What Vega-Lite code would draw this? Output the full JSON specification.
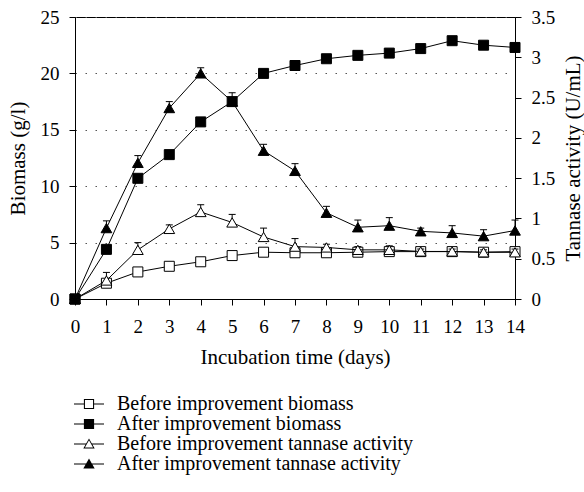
{
  "$schema": "https://vega.github.io/schema/vega-lite/v6.json",
  "width": 440,
  "height": 282,
  "autosize": {"type": "none"},
  "padding": {"left": 75, "top": 17, "right": 69, "bottom": 193},
  "background": "white",
  "config": {
    "font": "Liberation Serif",
    "view": {"stroke": "black", "strokeWidth": 1},
    "axis": {
      "domainColor": "black",
      "tickColor": "black",
      "labelColor": "black",
      "titleColor": "black",
      "labelFont": "Liberation Serif",
      "titleFont": "Liberation Serif",
      "labelFontSize": 19,
      "titleFontSize": 21,
      "titleFontWeight": "normal",
      "tickSize": 6,
      "grid": false
    },
    "legend": {
      "orient": "none",
      "legendX": 4,
      "legendY": 377,
      "direction": "vertical",
      "padding": 0,
      "rowPadding": 0,
      "labelFont": "Liberation Serif",
      "labelFontSize": 20,
      "labelColor": "black",
      "labelOffset": 18,
      "labelLimit": 0,
      "symbolSize": 225,
      "symbolStrokeWidth": 0,
      "symbolFillColor": "black"
    }
  },
  "data": {
    "values": [
      {"day": 0, "series": "Before improvement biomass", "axis": "biomass", "value": 0},
      {"day": 1, "series": "Before improvement biomass", "axis": "biomass", "value": 1.4},
      {"day": 2, "series": "Before improvement biomass", "axis": "biomass", "value": 2.4},
      {"day": 3, "series": "Before improvement biomass", "axis": "biomass", "value": 2.9},
      {"day": 4, "series": "Before improvement biomass", "axis": "biomass", "value": 3.3},
      {"day": 5, "series": "Before improvement biomass", "axis": "biomass", "value": 3.85},
      {"day": 6, "series": "Before improvement biomass", "axis": "biomass", "value": 4.15},
      {"day": 7, "series": "Before improvement biomass", "axis": "biomass", "value": 4.1},
      {"day": 8, "series": "Before improvement biomass", "axis": "biomass", "value": 4.1},
      {"day": 9, "series": "Before improvement biomass", "axis": "biomass", "value": 4.15},
      {"day": 10, "series": "Before improvement biomass", "axis": "biomass", "value": 4.2},
      {"day": 11, "series": "Before improvement biomass", "axis": "biomass", "value": 4.2},
      {"day": 12, "series": "Before improvement biomass", "axis": "biomass", "value": 4.2},
      {"day": 13, "series": "Before improvement biomass", "axis": "biomass", "value": 4.15},
      {"day": 14, "series": "Before improvement biomass", "axis": "biomass", "value": 4.2},
      {"day": 0, "series": "After improvement biomass", "axis": "biomass", "value": 0},
      {"day": 1, "series": "After improvement biomass", "axis": "biomass", "value": 4.4},
      {"day": 2, "series": "After improvement biomass", "axis": "biomass", "value": 10.7},
      {"day": 3, "series": "After improvement biomass", "axis": "biomass", "value": 12.8},
      {"day": 4, "series": "After improvement biomass", "axis": "biomass", "value": 15.7},
      {"day": 5, "series": "After improvement biomass", "axis": "biomass", "value": 17.5},
      {"day": 6, "series": "After improvement biomass", "axis": "biomass", "value": 20.0},
      {"day": 7, "series": "After improvement biomass", "axis": "biomass", "value": 20.7},
      {"day": 8, "series": "After improvement biomass", "axis": "biomass", "value": 21.3},
      {"day": 9, "series": "After improvement biomass", "axis": "biomass", "value": 21.6},
      {"day": 10, "series": "After improvement biomass", "axis": "biomass", "value": 21.8},
      {"day": 11, "series": "After improvement biomass", "axis": "biomass", "value": 22.2},
      {"day": 12, "series": "After improvement biomass", "axis": "biomass", "value": 22.9},
      {"day": 13, "series": "After improvement biomass", "axis": "biomass", "value": 22.5},
      {"day": 14, "series": "After improvement biomass", "axis": "biomass", "value": 22.3},
      {"day": 0, "series": "Before improvement tannase activity", "axis": "tannase", "value": 0, "upper": null},
      {"day": 1, "series": "Before improvement tannase activity", "axis": "tannase", "value": 0.23, "upper": 0.33},
      {"day": 2, "series": "Before improvement tannase activity", "axis": "tannase", "value": 0.61, "upper": 0.7},
      {"day": 3, "series": "Before improvement tannase activity", "axis": "tannase", "value": 0.87, "upper": 0.92},
      {"day": 4, "series": "Before improvement tannase activity", "axis": "tannase", "value": 1.08, "upper": 1.17},
      {"day": 5, "series": "Before improvement tannase activity", "axis": "tannase", "value": 0.95, "upper": 1.05},
      {"day": 6, "series": "Before improvement tannase activity", "axis": "tannase", "value": 0.77, "upper": 0.88},
      {"day": 7, "series": "Before improvement tannase activity", "axis": "tannase", "value": 0.65, "upper": 0.75},
      {"day": 8, "series": "Before improvement tannase activity", "axis": "tannase", "value": 0.64, "upper": 0.68},
      {"day": 9, "series": "Before improvement tannase activity", "axis": "tannase", "value": 0.61, "upper": 0.65},
      {"day": 10, "series": "Before improvement tannase activity", "axis": "tannase", "value": 0.61, "upper": 0.66},
      {"day": 11, "series": "Before improvement tannase activity", "axis": "tannase", "value": 0.59, "upper": 0.62},
      {"day": 12, "series": "Before improvement tannase activity", "axis": "tannase", "value": 0.59, "upper": 0.62},
      {"day": 13, "series": "Before improvement tannase activity", "axis": "tannase", "value": 0.58, "upper": 0.61},
      {"day": 14, "series": "Before improvement tannase activity", "axis": "tannase", "value": 0.58, "upper": 0.62},
      {"day": 0, "series": "After improvement tannase activity", "axis": "tannase", "value": 0, "upper": null},
      {"day": 1, "series": "After improvement tannase activity", "axis": "tannase", "value": 0.88, "upper": 0.97},
      {"day": 2, "series": "After improvement tannase activity", "axis": "tannase", "value": 1.69, "upper": 1.78},
      {"day": 3, "series": "After improvement tannase activity", "axis": "tannase", "value": 2.37, "upper": 2.45},
      {"day": 4, "series": "After improvement tannase activity", "axis": "tannase", "value": 2.8, "upper": 2.87},
      {"day": 5, "series": "After improvement tannase activity", "axis": "tannase", "value": 2.45, "upper": 2.56},
      {"day": 6, "series": "After improvement tannase activity", "axis": "tannase", "value": 1.84, "upper": 1.92},
      {"day": 7, "series": "After improvement tannase activity", "axis": "tannase", "value": 1.59, "upper": 1.68},
      {"day": 8, "series": "After improvement tannase activity", "axis": "tannase", "value": 1.07, "upper": 1.15},
      {"day": 9, "series": "After improvement tannase activity", "axis": "tannase", "value": 0.89, "upper": 0.98},
      {"day": 10, "series": "After improvement tannase activity", "axis": "tannase", "value": 0.91, "upper": 1.01},
      {"day": 11, "series": "After improvement tannase activity", "axis": "tannase", "value": 0.84, "upper": 0.88},
      {"day": 12, "series": "After improvement tannase activity", "axis": "tannase", "value": 0.82, "upper": 0.91},
      {"day": 13, "series": "After improvement tannase activity", "axis": "tannase", "value": 0.78, "upper": 0.86},
      {"day": 14, "series": "After improvement tannase activity", "axis": "tannase", "value": 0.85, "upper": 0.98}
    ]
  },
  "encoding": {
    "x": {
      "field": "day",
      "type": "quantitative",
      "scale": {"domain": [0, 14], "nice": false, "zero": false},
      "axis": {
        "title": "Incubation time (days)",
        "values": [0, 1, 2, 3, 4, 5, 6, 7, 8, 9, 10, 11, 12, 13, 14],
        "format": "d",
        "labelPadding": 12,
        "labelFlush": false,
        "labelOverlap": false,
        "titleY": 58,
        "titleBaseline": "middle"
      }
    }
  },
  "layer": [
    {
      "transform": [{"filter": "datum.axis === 'biomass'"}],
      "encoding": {
        "y": {
          "field": "value",
          "type": "quantitative",
          "scale": {"domain": [0, 25], "nice": false},
          "axis": {
            "orient": "left",
            "title": "Biomass (g/l)",
            "values": [0, 5, 10, 15, 20, 25],
            "format": "d",
            "labelPadding": 10,
            "grid": true,
            "gridColor": "#555555",
            "gridDash": [1.5, 8.5],
            "gridWidth": 1,
            "titleAngle": 270,
            "titleX": -57,
            "titleY": 141,
            "titleAlign": "center",
            "titleBaseline": "middle"
          }
        }
      },
      "layer": [
        {
          "mark": {"type": "line", "color": "black", "strokeWidth": 1},
          "encoding": {"detail": {"field": "series", "type": "nominal"}}
        },
        {
          "mark": {"type": "point", "filled": true, "stroke": "black", "strokeWidth": 1, "size": 100, "opacity": 1},
          "encoding": {
            "shape": {
              "field": "series",
              "type": "nominal",
              "scale": {
                "domain": ["Before improvement biomass", "After improvement biomass", "Before improvement tannase activity", "After improvement tannase activity"],
                "range": ["square", "square", "triangle-up", "triangle-up"]
              },
              "legend": null
            },
            "fill": {
              "field": "series",
              "type": "nominal",
              "scale": {
                "domain": ["Before improvement biomass", "After improvement biomass", "Before improvement tannase activity", "After improvement tannase activity"],
                "range": ["white", "black", "white", "black"]
              },
              "legend": null
            }
          }
        }
      ]
    },
    {
      "transform": [{"filter": "datum.axis === 'tannase'"}],
      "encoding": {
        "y": {
          "field": "value",
          "type": "quantitative",
          "scale": {"domain": [0, 3.5], "nice": false},
          "axis": {
            "orient": "right",
            "title": "Tannase activity (U/mL)",
            "values": [0, 0.5, 1, 1.5, 2, 2.5, 3, 3.5],
            "format": "~g",
            "labelPadding": 10,
            "grid": false,
            "titleAngle": 270,
            "titleX": 58,
            "titleY": 141,
            "titleAlign": "center",
            "titleBaseline": "middle"
          }
        }
      },
      "layer": [
        {
          "mark": {"type": "line", "color": "black", "strokeWidth": 1},
          "encoding": {"detail": {"field": "series", "type": "nominal"}}
        },
        {
          "transform": [{"filter": "datum.upper != null"}],
          "mark": {"type": "rule", "color": "black", "strokeWidth": 1},
          "encoding": {"y2": {"field": "upper"}}
        },
        {
          "transform": [{"filter": "datum.upper != null"}],
          "mark": {"type": "tick", "orient": "horizontal", "color": "black", "size": 7, "thickness": 1, "opacity": 1},
          "encoding": {"y": {"field": "upper", "type": "quantitative"}}
        },
        {
          "mark": {"type": "point", "filled": true, "stroke": "black", "strokeWidth": 1, "size": 115, "opacity": 1},
          "encoding": {
            "shape": {
              "field": "series",
              "type": "nominal",
              "scale": {
                "domain": ["Before improvement biomass", "After improvement biomass", "Before improvement tannase activity", "After improvement tannase activity"],
                "range": ["square", "square", "triangle-up", "triangle-up"]
              },
              "legend": null
            },
            "fill": {
              "field": "series",
              "type": "nominal",
              "scale": {
                "domain": ["Before improvement biomass", "After improvement biomass", "Before improvement tannase activity", "After improvement tannase activity"],
                "range": ["white", "black", "white", "black"]
              },
              "legend": null
            }
          }
        }
      ]
    },
    {
      "transform": [{"filter": "false"}],
      "mark": {"type": "point", "filled": true, "color": "black", "size": 225, "opacity": 1},
      "encoding": {
        "shape": {
          "field": "series",
          "type": "nominal",
          "scale": {
            "domain": ["Before improvement biomass", "After improvement biomass", "Before improvement tannase activity", "After improvement tannase activity"],
            "range": [
              "M-2,-0.07H-0.68V0.07H-2ZM0.68,-0.07H2V0.07H0.68ZM-0.68,-0.68H0.68V0.68H-0.68ZM-0.54,-0.54V0.54H0.54V-0.54Z",
              "M-2,-0.07H2V0.07H-2ZM-0.68,-0.68H0.68V0.68H-0.68Z",
              "M-2,-0.07H-0.38V0.07H-2ZM0.38,-0.07H2V0.07H0.38ZM0,-0.75L0.76,0.6L-0.76,0.6ZM0,-0.49L-0.54,0.47L0.54,0.47Z",
              "M-2,-0.07H2V0.07H-2ZM0,-0.75L0.76,0.6L-0.76,0.6Z"
            ]
          },
          "legend": {"title": null}
        }
      }
    }
  ],
  "resolve": {
    "scale": {"y": "independent", "shape": "independent"},
    "legend": {"shape": "independent"}
  }
}
